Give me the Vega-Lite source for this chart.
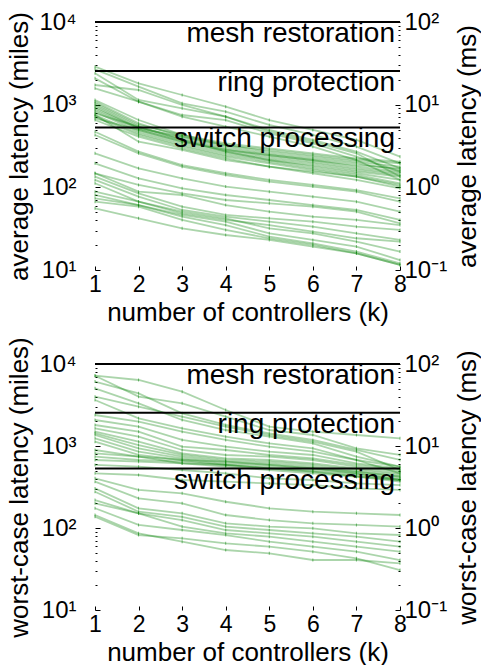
{
"$schema": "https://vega.github.io/schema/vega-lite/v6.json",
"padding": {"left": 6, "top": 10, "right": 0, "bottom": 0},
"config": {"view": {"stroke": null}, "font": "Liberation Sans",
  "axis": {"labelFont": "Liberation Sans", "titleFont": "Liberation Sans", "labelColor": "black", "titleColor": "black", "tickColor": "black", "domain": false, "grid": false, "titleFontWeight": "normal", "labelFontSize": 24, "titleFontSize": 26}},
"datasets": {
"refs": [{"name": "mesh restoration", "miles": 10000}, {"name": "ring protection", "miles": 2550}, {"name": "switch processing", "miles": 530}],
"msr": [{"ms": 0.1}, {"ms": 100}],
"lat": [
{"p":"a","s":"H1","k":1,"v":2882},{"p":"a","s":"H1","k":2,"v":1812},{"p":"a","s":"H1","k":3,"v":1309},{"p":"a","s":"H1","k":4,"v":946},{"p":"a","s":"H1","k":5,"v":652},{"p":"a","s":"H1","k":6,"v":494},{"p":"a","s":"H1","k":7,"v":374},{"p":"a","s":"H1","k":8,"v":235},
{"p":"a","s":"H2","k":1,"v":2676},{"p":"a","s":"H2","k":2,"v":1651},{"p":"a","s":"H2","k":3,"v":1038},{"p":"a","s":"H2","k":4,"v":823},{"p":"a","s":"H2","k":5,"v":568},{"p":"a","s":"H2","k":6,"v":430},{"p":"a","s":"H2","k":7,"v":310},{"p":"a","s":"H2","k":8,"v":195},
{"p":"a","s":"H3","k":1,"v":2393},{"p":"a","s":"H3","k":2,"v":1139},{"p":"a","s":"H3","k":3,"v":903},{"p":"a","s":"H3","k":4,"v":716},{"p":"a","s":"H3","k":5,"v":494},{"p":"a","s":"H3","k":6,"v":374},{"p":"a","s":"H3","k":7,"v":270},{"p":"a","s":"H3","k":8,"v":170},
{"p":"a","s":"H4","k":1,"v":2082},{"p":"a","s":"H4","k":2,"v":1087},{"p":"a","s":"H4","k":3,"v":750},{"p":"a","s":"H4","k":4,"v":652},{"p":"a","s":"H4","k":5,"v":450},{"p":"a","s":"H4","k":6,"v":341},{"p":"a","s":"H4","k":7,"v":235},{"p":"a","s":"H4","k":8,"v":155},
{"p":"a","s":"H5","k":1,"v":1729},{"p":"a","s":"H5","k":2,"v":1505},{"p":"a","s":"H5","k":3,"v":991},{"p":"a","s":"H5","k":4,"v":716},{"p":"a","s":"H5","k":5,"v":471},{"p":"a","s":"H5","k":6,"v":357},{"p":"a","s":"H5","k":7,"v":258},{"p":"a","s":"H5","k":8,"v":135},
{"p":"a","s":"H6","k":1,"v":1576},{"p":"a","s":"H6","k":2,"v":1087},{"p":"a","s":"H6","k":3,"v":716},{"p":"a","s":"H6","k":4,"v":542},{"p":"a","s":"H6","k":5,"v":410},{"p":"a","s":"H6","k":6,"v":310},{"p":"a","s":"H6","k":7,"v":214},{"p":"a","s":"H6","k":8,"v":123},
{"p":"a","s":"M1","k":1,"v":1139},{"p":"a","s":"M1","k":2,"v":652},{"p":"a","s":"M1","k":3,"v":430},{"p":"a","s":"M1","k":4,"v":325},{"p":"a","s":"M1","k":5,"v":270},{"p":"a","s":"M1","k":6,"v":235},{"p":"a","s":"M1","k":7,"v":204},{"p":"a","s":"M1","k":8,"v":178},
{"p":"a","s":"M2","k":1,"v":1087},{"p":"a","s":"M2","k":2,"v":595},{"p":"a","s":"M2","k":3,"v":410},{"p":"a","s":"M2","k":4,"v":310},{"p":"a","s":"M2","k":5,"v":258},{"p":"a","s":"M2","k":6,"v":224},{"p":"a","s":"M2","k":7,"v":195},{"p":"a","s":"M2","k":8,"v":162},
{"p":"a","s":"M3","k":1,"v":991},{"p":"a","s":"M3","k":2,"v":542},{"p":"a","s":"M3","k":3,"v":391},{"p":"a","s":"M3","k":4,"v":296},{"p":"a","s":"M3","k":5,"v":246},{"p":"a","s":"M3","k":6,"v":214},{"p":"a","s":"M3","k":7,"v":178},{"p":"a","s":"M3","k":8,"v":155},
{"p":"a","s":"M4","k":1,"v":903},{"p":"a","s":"M4","k":2,"v":517},{"p":"a","s":"M4","k":3,"v":374},{"p":"a","s":"M4","k":4,"v":283},{"p":"a","s":"M4","k":5,"v":235},{"p":"a","s":"M4","k":6,"v":204},{"p":"a","s":"M4","k":7,"v":170},{"p":"a","s":"M4","k":8,"v":148},
{"p":"a","s":"M5","k":1,"v":862},{"p":"a","s":"M5","k":2,"v":494},{"p":"a","s":"M5","k":3,"v":357},{"p":"a","s":"M5","k":4,"v":270},{"p":"a","s":"M5","k":5,"v":224},{"p":"a","s":"M5","k":6,"v":195},{"p":"a","s":"M5","k":7,"v":162},{"p":"a","s":"M5","k":8,"v":141},
{"p":"a","s":"M6","k":1,"v":823},{"p":"a","s":"M6","k":2,"v":471},{"p":"a","s":"M6","k":3,"v":341},{"p":"a","s":"M6","k":4,"v":258},{"p":"a","s":"M6","k":5,"v":214},{"p":"a","s":"M6","k":6,"v":186},{"p":"a","s":"M6","k":7,"v":155},{"p":"a","s":"M6","k":8,"v":135},
{"p":"a","s":"M7","k":1,"v":786},{"p":"a","s":"M7","k":2,"v":542},{"p":"a","s":"M7","k":3,"v":374},{"p":"a","s":"M7","k":4,"v":270},{"p":"a","s":"M7","k":5,"v":214},{"p":"a","s":"M7","k":6,"v":178},{"p":"a","s":"M7","k":7,"v":148},{"p":"a","s":"M7","k":8,"v":123},
{"p":"a","s":"M8","k":1,"v":750},{"p":"a","s":"M8","k":2,"v":450},{"p":"a","s":"M8","k":3,"v":325},{"p":"a","s":"M8","k":4,"v":246},{"p":"a","s":"M8","k":5,"v":204},{"p":"a","s":"M8","k":6,"v":170},{"p":"a","s":"M8","k":7,"v":141},{"p":"a","s":"M8","k":8,"v":112},
{"p":"a","s":"M9","k":1,"v":716},{"p":"a","s":"M9","k":2,"v":430},{"p":"a","s":"M9","k":3,"v":310},{"p":"a","s":"M9","k":4,"v":235},{"p":"a","s":"M9","k":5,"v":195},{"p":"a","s":"M9","k":6,"v":162},{"p":"a","s":"M9","k":7,"v":135},{"p":"a","s":"M9","k":8,"v":102},
{"p":"a","s":"M10","k":1,"v":683},{"p":"a","s":"M10","k":2,"v":494},{"p":"a","s":"M10","k":3,"v":357},{"p":"a","s":"M10","k":4,"v":283},{"p":"a","s":"M10","k":5,"v":246},{"p":"a","s":"M10","k":6,"v":214},{"p":"a","s":"M10","k":7,"v":186},{"p":"a","s":"M10","k":8,"v":170},
{"p":"a","s":"M11","k":1,"v":652},{"p":"a","s":"M11","k":2,"v":410},{"p":"a","s":"M11","k":3,"v":296},{"p":"a","s":"M11","k":4,"v":224},{"p":"a","s":"M11","k":5,"v":178},{"p":"a","s":"M11","k":6,"v":148},{"p":"a","s":"M11","k":7,"v":123},{"p":"a","s":"M11","k":8,"v":97.3},
{"p":"a","s":"M12","k":1,"v":946},{"p":"a","s":"M12","k":2,"v":517},{"p":"a","s":"M12","k":3,"v":410},{"p":"a","s":"M12","k":4,"v":325},{"p":"a","s":"M12","k":5,"v":283},{"p":"a","s":"M12","k":6,"v":246},{"p":"a","s":"M12","k":7,"v":214},{"p":"a","s":"M12","k":8,"v":195},
{"p":"a","s":"M13","k":1,"v":750},{"p":"a","s":"M13","k":2,"v":357},{"p":"a","s":"M13","k":3,"v":283},{"p":"a","s":"M13","k":4,"v":214},{"p":"a","s":"M13","k":5,"v":178},{"p":"a","s":"M13","k":6,"v":155},{"p":"a","s":"M13","k":7,"v":135},{"p":"a","s":"M13","k":8,"v":107},
{"p":"a","s":"M14","k":1,"v":1038},{"p":"a","s":"M14","k":2,"v":568},{"p":"a","s":"M14","k":3,"v":430},{"p":"a","s":"M14","k":4,"v":341},{"p":"a","s":"M14","k":5,"v":296},{"p":"a","s":"M14","k":6,"v":258},{"p":"a","s":"M14","k":7,"v":224},{"p":"a","s":"M14","k":8,"v":204},
{"p":"a","s":"D1","k":1,"v":471},{"p":"a","s":"D1","k":2,"v":270},{"p":"a","s":"D1","k":3,"v":186},{"p":"a","s":"D1","k":4,"v":148},{"p":"a","s":"D1","k":5,"v":123},{"p":"a","s":"D1","k":6,"v":107},{"p":"a","s":"D1","k":7,"v":92.8},{"p":"a","s":"D1","k":8,"v":73.6},
{"p":"a","s":"D2","k":1,"v":430},{"p":"a","s":"D2","k":2,"v":258},{"p":"a","s":"D2","k":3,"v":178},{"p":"a","s":"D2","k":4,"v":141},{"p":"a","s":"D2","k":5,"v":117},{"p":"a","s":"D2","k":6,"v":102},{"p":"a","s":"D2","k":7,"v":88.6},{"p":"a","s":"D2","k":8,"v":67.1},
{"p":"a","s":"D3","k":1,"v":258},{"p":"a","s":"D3","k":2,"v":170},{"p":"a","s":"D3","k":3,"v":128},{"p":"a","s":"D3","k":4,"v":102},{"p":"a","s":"D3","k":5,"v":88.6},{"p":"a","s":"D3","k":6,"v":77.1},{"p":"a","s":"D3","k":7,"v":67.1},{"p":"a","s":"D3","k":8,"v":50.8},
{"p":"a","s":"D4","k":1,"v":195},{"p":"a","s":"D4","k":2,"v":128},{"p":"a","s":"D4","k":3,"v":97.3},{"p":"a","s":"D4","k":4,"v":80.8},{"p":"a","s":"D4","k":5,"v":70.3},{"p":"a","s":"D4","k":6,"v":61.1},{"p":"a","s":"D4","k":7,"v":53.2},{"p":"a","s":"D4","k":8,"v":40.3},
{"p":"a","s":"D5","k":1,"v":148},{"p":"a","s":"D5","k":2,"v":107},{"p":"a","s":"D5","k":3,"v":84.6},{"p":"a","s":"D5","k":4,"v":70.3},{"p":"a","s":"D5","k":5,"v":64.0},{"p":"a","s":"D5","k":6,"v":58.4},{"p":"a","s":"D5","k":7,"v":50.8},{"p":"a","s":"D5","k":8,"v":36.7},
{"p":"a","s":"W1","k":1,"v":148},{"p":"a","s":"W1","k":2,"v":88.6},{"p":"a","s":"W1","k":3,"v":80.8},{"p":"a","s":"W1","k":4,"v":61.1},{"p":"a","s":"W1","k":5,"v":50.8},{"p":"a","s":"W1","k":6,"v":44.2},{"p":"a","s":"W1","k":7,"v":40.3},{"p":"a","s":"W1","k":8,"v":35.0},
{"p":"a","s":"W2","k":1,"v":135},{"p":"a","s":"W2","k":2,"v":84.6},{"p":"a","s":"W2","k":3,"v":58.4},{"p":"a","s":"W2","k":4,"v":46.3},{"p":"a","s":"W2","k":5,"v":42.2},{"p":"a","s":"W2","k":6,"v":38.4},{"p":"a","s":"W2","k":7,"v":33.4},{"p":"a","s":"W2","k":8,"v":30.5},
{"p":"a","s":"W3","k":1,"v":123},{"p":"a","s":"W3","k":2,"v":77.1},{"p":"a","s":"W3","k":3,"v":53.2},{"p":"a","s":"W3","k":4,"v":44.2},{"p":"a","s":"W3","k":5,"v":38.4},{"p":"a","s":"W3","k":6,"v":33.4},{"p":"a","s":"W3","k":7,"v":27.8},{"p":"a","s":"W3","k":8,"v":23.1},
{"p":"a","s":"W4","k":1,"v":112},{"p":"a","s":"W4","k":2,"v":67.1},{"p":"a","s":"W4","k":3,"v":48.5},{"p":"a","s":"W4","k":4,"v":40.3},{"p":"a","s":"W4","k":5,"v":35.0},{"p":"a","s":"W4","k":6,"v":29.1},{"p":"a","s":"W4","k":7,"v":24.2},{"p":"a","s":"W4","k":8,"v":22.0},
{"p":"a","s":"W5","k":1,"v":88.6},{"p":"a","s":"W5","k":2,"v":67.1},{"p":"a","s":"W5","k":3,"v":50.8},{"p":"a","s":"W5","k":4,"v":42.2},{"p":"a","s":"W5","k":5,"v":31.9},{"p":"a","s":"W5","k":6,"v":27.8},{"p":"a","s":"W5","k":7,"v":22.0},{"p":"a","s":"W5","k":8,"v":16.7},
{"p":"a","s":"W6","k":1,"v":80.8},{"p":"a","s":"W6","k":2,"v":61.1},{"p":"a","s":"W6","k":3,"v":46.3},{"p":"a","s":"W6","k":4,"v":38.4},{"p":"a","s":"W6","k":5,"v":27.8},{"p":"a","s":"W6","k":6,"v":23.1},{"p":"a","s":"W6","k":7,"v":19.2},{"p":"a","s":"W6","k":8,"v":13.2},
{"p":"a","s":"W7","k":1,"v":73.6},{"p":"a","s":"W7","k":2,"v":61.1},{"p":"a","s":"W7","k":3,"v":44.2},{"p":"a","s":"W7","k":4,"v":35.0},{"p":"a","s":"W7","k":5,"v":25.3},{"p":"a","s":"W7","k":6,"v":21.0},{"p":"a","s":"W7","k":7,"v":16.7},{"p":"a","s":"W7","k":8,"v":12.0},
{"p":"a","s":"W8","k":1,"v":67.1},{"p":"a","s":"W8","k":2,"v":58.4},{"p":"a","s":"W8","k":3,"v":40.3},{"p":"a","s":"W8","k":4,"v":30.5},{"p":"a","s":"W8","k":5,"v":24.2},{"p":"a","s":"W8","k":6,"v":20.1},{"p":"a","s":"W8","k":7,"v":15.9},{"p":"a","s":"W8","k":8,"v":11.5},
{"p":"a","s":"W9","k":1,"v":55.7},{"p":"a","s":"W9","k":2,"v":42.2},{"p":"a","s":"W9","k":3,"v":31.9},{"p":"a","s":"W9","k":4,"v":26.5},{"p":"a","s":"W9","k":5,"v":23.1},{"p":"a","s":"W9","k":6,"v":19.2},{"p":"a","s":"W9","k":7,"v":15.9},{"p":"a","s":"W9","k":8,"v":11.5},
{"p":"w","s":"T1","k":1,"v":7200},{"p":"w","s":"T1","k":2,"v":6381},{"p":"w","s":"T1","k":3,"v":4598},{"p":"w","s":"T1","k":4,"v":2748},{"p":"w","s":"T1","k":5,"v":1721},{"p":"w","s":"T1","k":6,"v":1495},{"p":"w","s":"T1","k":7,"v":1362},{"p":"w","s":"T1","k":8,"v":1240},
{"p":"w","s":"T2","k":1,"v":7200},{"p":"w","s":"T2","k":2,"v":3996},{"p":"w","s":"T2","k":3,"v":3315},{"p":"w","s":"T2","k":4,"v":2279},{"p":"w","s":"T2","k":5,"v":1567},{"p":"w","s":"T2","k":6,"v":1362},{"p":"w","s":"T2","k":7,"v":937},{"p":"w","s":"T2","k":8,"v":777},
{"p":"w","s":"T3","k":1,"v":6100},{"p":"w","s":"T3","k":2,"v":4388},{"p":"w","s":"T3","k":3,"v":2503},{"p":"w","s":"T3","k":4,"v":1804},{"p":"w","s":"T3","k":5,"v":1427},{"p":"w","s":"T3","k":6,"v":1184},{"p":"w","s":"T3","k":7,"v":894},{"p":"w","s":"T3","k":8,"v":675},
{"p":"w","s":"T4","k":1,"v":5050},{"p":"w","s":"T4","k":2,"v":3315},{"p":"w","s":"T4","k":3,"v":2076},{"p":"w","s":"T4","k":4,"v":1567},{"p":"w","s":"T4","k":5,"v":1300},{"p":"w","s":"T4","k":6,"v":1078},{"p":"w","s":"T4","k":7,"v":741},{"p":"w","s":"T4","k":8,"v":560},
{"p":"w","s":"T5","k":1,"v":3996},{"p":"w","s":"T5","k":2,"v":3018},{"p":"w","s":"T5","k":3,"v":2279},{"p":"w","s":"T5","k":4,"v":1721},{"p":"w","s":"T5","k":5,"v":1362},{"p":"w","s":"T5","k":6,"v":1129},{"p":"w","s":"T5","k":7,"v":853},{"p":"w","s":"T5","k":8,"v":510},
{"p":"w","s":"T6","k":1,"v":3639},{"p":"w","s":"T6","k":2,"v":2175},{"p":"w","s":"T6","k":3,"v":1642},{"p":"w","s":"T6","k":4,"v":1300},{"p":"w","s":"T6","k":5,"v":1078},{"p":"w","s":"T6","k":6,"v":937},{"p":"w","s":"T6","k":7,"v":675},{"p":"w","s":"T6","k":8,"v":464},
{"p":"w","s":"N1","k":1,"v":2388},{"p":"w","s":"N1","k":2,"v":1981},{"p":"w","s":"N1","k":3,"v":1495},{"p":"w","s":"N1","k":4,"v":1184},{"p":"w","s":"N1","k":5,"v":981},{"p":"w","s":"N1","k":6,"v":853},{"p":"w","s":"N1","k":7,"v":675},{"p":"w","s":"N1","k":8,"v":560},
{"p":"w","s":"N2","k":1,"v":2076},{"p":"w","s":"N2","k":2,"v":1721},{"p":"w","s":"N2","k":3,"v":1184},{"p":"w","s":"N2","k":4,"v":981},{"p":"w","s":"N2","k":5,"v":853},{"p":"w","s":"N2","k":6,"v":777},{"p":"w","s":"N2","k":7,"v":615},{"p":"w","s":"N2","k":8,"v":534},
{"p":"w","s":"N3","k":1,"v":1804},{"p":"w","s":"N3","k":2,"v":1495},{"p":"w","s":"N3","k":3,"v":981},{"p":"w","s":"N3","k":4,"v":894},{"p":"w","s":"N3","k":5,"v":777},{"p":"w","s":"N3","k":6,"v":707},{"p":"w","s":"N3","k":7,"v":587},{"p":"w","s":"N3","k":8,"v":510},
{"p":"w","s":"N4","k":1,"v":1642},{"p":"w","s":"N4","k":2,"v":1300},{"p":"w","s":"N4","k":3,"v":894},{"p":"w","s":"N4","k":4,"v":777},{"p":"w","s":"N4","k":5,"v":741},{"p":"w","s":"N4","k":6,"v":675},{"p":"w","s":"N4","k":7,"v":560},{"p":"w","s":"N4","k":8,"v":486},
{"p":"w","s":"N5","k":1,"v":1495},{"p":"w","s":"N5","k":2,"v":1129},{"p":"w","s":"N5","k":3,"v":814},{"p":"w","s":"N5","k":4,"v":707},{"p":"w","s":"N5","k":5,"v":675},{"p":"w","s":"N5","k":6,"v":615},{"p":"w","s":"N5","k":7,"v":534},{"p":"w","s":"N5","k":8,"v":464},
{"p":"w","s":"N6","k":1,"v":1427},{"p":"w","s":"N6","k":2,"v":1028},{"p":"w","s":"N6","k":3,"v":777},{"p":"w","s":"N6","k":4,"v":675},{"p":"w","s":"N6","k":5,"v":644},{"p":"w","s":"N6","k":6,"v":587},{"p":"w","s":"N6","k":7,"v":510},{"p":"w","s":"N6","k":8,"v":443},
{"p":"w","s":"N7","k":1,"v":1362},{"p":"w","s":"N7","k":2,"v":937},{"p":"w","s":"N7","k":3,"v":741},{"p":"w","s":"N7","k":4,"v":644},{"p":"w","s":"N7","k":5,"v":615},{"p":"w","s":"N7","k":6,"v":560},{"p":"w","s":"N7","k":7,"v":486},{"p":"w","s":"N7","k":8,"v":423},
{"p":"w","s":"N8","k":1,"v":1240},{"p":"w","s":"N8","k":2,"v":853},{"p":"w","s":"N8","k":3,"v":707},{"p":"w","s":"N8","k":4,"v":615},{"p":"w","s":"N8","k":5,"v":587},{"p":"w","s":"N8","k":6,"v":534},{"p":"w","s":"N8","k":7,"v":464},{"p":"w","s":"N8","k":8,"v":403},
{"p":"w","s":"N9","k":1,"v":1129},{"p":"w","s":"N9","k":2,"v":777},{"p":"w","s":"N9","k":3,"v":675},{"p":"w","s":"N9","k":4,"v":587},{"p":"w","s":"N9","k":5,"v":560},{"p":"w","s":"N9","k":6,"v":510},{"p":"w","s":"N9","k":7,"v":464},{"p":"w","s":"N9","k":8,"v":385},
{"p":"w","s":"N10","k":1,"v":894},{"p":"w","s":"N10","k":2,"v":741},{"p":"w","s":"N10","k":3,"v":615},{"p":"w","s":"N10","k":4,"v":587},{"p":"w","s":"N10","k":5,"v":534},{"p":"w","s":"N10","k":6,"v":486},{"p":"w","s":"N10","k":7,"v":443},{"p":"w","s":"N10","k":8,"v":385},
{"p":"w","s":"N11","k":1,"v":814},{"p":"w","s":"N11","k":2,"v":741},{"p":"w","s":"N11","k":3,"v":675},{"p":"w","s":"N11","k":4,"v":644},{"p":"w","s":"N11","k":5,"v":587},{"p":"w","s":"N11","k":6,"v":534},{"p":"w","s":"N11","k":7,"v":486},{"p":"w","s":"N11","k":8,"v":423},
{"p":"w","s":"N12","k":1,"v":741},{"p":"w","s":"N12","k":2,"v":675},{"p":"w","s":"N12","k":3,"v":644},{"p":"w","s":"N12","k":4,"v":587},{"p":"w","s":"N12","k":5,"v":534},{"p":"w","s":"N12","k":6,"v":486},{"p":"w","s":"N12","k":7,"v":423},{"p":"w","s":"N12","k":8,"v":367},
{"p":"w","s":"N13","k":1,"v":675},{"p":"w","s":"N13","k":2,"v":644},{"p":"w","s":"N13","k":3,"v":615},{"p":"w","s":"N13","k":4,"v":560},{"p":"w","s":"N13","k":5,"v":510},{"p":"w","s":"N13","k":6,"v":464},{"p":"w","s":"N13","k":7,"v":423},{"p":"w","s":"N13","k":8,"v":385},
{"p":"w","s":"N14","k":1,"v":587},{"p":"w","s":"N14","k":2,"v":560},{"p":"w","s":"N14","k":3,"v":510},{"p":"w","s":"N14","k":4,"v":464},{"p":"w","s":"N14","k":5,"v":403},{"p":"w","s":"N14","k":6,"v":385},{"p":"w","s":"N14","k":7,"v":350},{"p":"w","s":"N14","k":8,"v":334},
{"p":"w","s":"P1","k":1,"v":464},{"p":"w","s":"P1","k":2,"v":443},{"p":"w","s":"P1","k":3,"v":385},{"p":"w","s":"P1","k":4,"v":367},{"p":"w","s":"P1","k":5,"v":350},{"p":"w","s":"P1","k":6,"v":334},{"p":"w","s":"P1","k":7,"v":304},{"p":"w","s":"P1","k":8,"v":291},
{"p":"w","s":"P2","k":1,"v":403},{"p":"w","s":"P2","k":2,"v":291},{"p":"w","s":"P2","k":3,"v":265},{"p":"w","s":"P2","k":4,"v":209},{"p":"w","s":"P2","k":5,"v":174},{"p":"w","s":"P2","k":6,"v":158},{"p":"w","s":"P2","k":7,"v":151},{"p":"w","s":"P2","k":8,"v":144},
{"p":"w","s":"P3","k":1,"v":367},{"p":"w","s":"P3","k":2,"v":230},{"p":"w","s":"P3","k":3,"v":200},{"p":"w","s":"P3","k":4,"v":144},{"p":"w","s":"P3","k":5,"v":125},{"p":"w","s":"P3","k":6,"v":114},{"p":"w","s":"P3","k":7,"v":109},{"p":"w","s":"P3","k":8,"v":104},
{"p":"w","s":"P4","k":1,"v":304},{"p":"w","s":"P4","k":2,"v":174},{"p":"w","s":"P4","k":3,"v":151},{"p":"w","s":"P4","k":4,"v":114},{"p":"w","s":"P4","k":5,"v":104},{"p":"w","s":"P4","k":6,"v":99.1},{"p":"w","s":"P4","k":7,"v":86.1},{"p":"w","s":"P4","k":8,"v":82.1},
{"p":"w","s":"P5","k":1,"v":277},{"p":"w","s":"P5","k":2,"v":158},{"p":"w","s":"P5","k":3,"v":137},{"p":"w","s":"P5","k":4,"v":104},{"p":"w","s":"P5","k":5,"v":94.5},{"p":"w","s":"P5","k":6,"v":86.1},{"p":"w","s":"P5","k":7,"v":78.4},{"p":"w","s":"P5","k":8,"v":68.1},
{"p":"w","s":"P6","k":1,"v":219},{"p":"w","s":"P6","k":2,"v":151},{"p":"w","s":"P6","k":3,"v":125},{"p":"w","s":"P6","k":4,"v":94.5},{"p":"w","s":"P6","k":5,"v":86.1},{"p":"w","s":"P6","k":6,"v":78.4},{"p":"w","s":"P6","k":7,"v":68.1},{"p":"w","s":"P6","k":8,"v":59.2},
{"p":"w","s":"P7","k":1,"v":200},{"p":"w","s":"P7","k":2,"v":151},{"p":"w","s":"P7","k":3,"v":104},{"p":"w","s":"P7","k":4,"v":86.1},{"p":"w","s":"P7","k":5,"v":78.4},{"p":"w","s":"P7","k":6,"v":68.1},{"p":"w","s":"P7","k":7,"v":59.2},{"p":"w","s":"P7","k":8,"v":51.4},
{"p":"w","s":"P8","k":1,"v":174},{"p":"w","s":"P8","k":2,"v":109},{"p":"w","s":"P8","k":3,"v":94.5},{"p":"w","s":"P8","k":4,"v":82.1},{"p":"w","s":"P8","k":5,"v":68.1},{"p":"w","s":"P8","k":6,"v":59.2},{"p":"w","s":"P8","k":7,"v":51.4},{"p":"w","s":"P8","k":8,"v":40.7},
{"p":"w","s":"P9","k":1,"v":144},{"p":"w","s":"P9","k":2,"v":86.1},{"p":"w","s":"P9","k":3,"v":68.1},{"p":"w","s":"P9","k":4,"v":53.9},{"p":"w","s":"P9","k":5,"v":49.1},{"p":"w","s":"P9","k":6,"v":40.7},{"p":"w","s":"P9","k":7,"v":40.7},{"p":"w","s":"P9","k":8,"v":37.1},
{"p":"w","s":"P10","k":1,"v":137},{"p":"w","s":"P10","k":2,"v":82.1},{"p":"w","s":"P10","k":3,"v":74.8},{"p":"w","s":"P10","k":4,"v":65.0},{"p":"w","s":"P10","k":5,"v":59.2},{"p":"w","s":"P10","k":6,"v":51.4},{"p":"w","s":"P10","k":7,"v":42.7},{"p":"w","s":"P10","k":8,"v":30.7}
]},
"spacing": 94,
"bounds": "flush",
"vconcat": [
{
 "width": 305, "height": 248,
 "layer": [
  {"layer": [
   {"data": {"name": "lat"}, "transform": [{"filter": "datum.p == 'a'"}],
    "mark": {"type": "line", "color": "#008000", "opacity": 0.33, "strokeWidth": 1.8},
    "encoding": {
     "x": {"field": "k", "type": "quantitative", "scale": {"domain": [1, 8], "nice": false, "zero": false},
       "axis": {"title": "number of controllers (k)", "values": [1,2,3,4,5,6,7,8], "format": "d", "tickSize": -4, "labelFontSize": 23, "labelPadding": 7, "labelFlush": false, "titlePadding": 3}},
     "y": {"field": "v", "type": "quantitative", "scale": {"type": "log", "domain": [10, 10000], "nice": false},
       "axis": {"title": "average latency (miles)", "values": [10,20,30,40,50,60,70,80,90,100,200,300,400,500,600,700,800,900,1000,2000,3000,4000,5000,6000,7000,8000,9000,10000],
         "tickSize": {"condition": {"test": "datum.value == 10 || datum.value == 100 || datum.value == 1000 || datum.value == 10000", "value": -5}, "value": -2},
         "labelExpr": "datum.value == 10 ? '10¹' : datum.value == 100 ? '10²' : datum.value == 1000 ? '10³' : datum.value == 10000 ? '10⁴' : ''",
         "labelOverlap": false, "labelPadding": 24, "titlePadding": 6}},
     "detail": {"field": "s"}
    }},
   {"data": {"name": "lat"}, "transform": [{"filter": "datum.p == 'a'"}],
    "mark": {"type": "tick", "orient": "vertical", "size": 3, "thickness": 1, "color": "#008000", "opacity": 0.5},
    "encoding": {
     "x": {"field": "k", "type": "quantitative", "scale": {"domain": [1, 8], "nice": false, "zero": false}},
     "y": {"field": "v", "type": "quantitative", "scale": {"type": "log", "domain": [10, 10000], "nice": false}}
    }},
   {"data": {"name": "refs"},
    "mark": {"type": "rule", "color": "black", "strokeWidth": 2},
    "encoding": {"y": {"field": "miles", "type": "quantitative", "scale": {"type": "log", "domain": [10, 10000], "nice": false}}}},
   {"data": {"name": "refs"},
    "mark": {"type": "text", "align": "right", "baseline": "alphabetic", "dx": -5, "dy": 20, "fontSize": 28, "font": "Liberation Sans", "color": "black"},
    "encoding": {"x": {"value": "width"}, "y": {"field": "miles", "type": "quantitative", "scale": {"type": "log", "domain": [10, 10000], "nice": false}}, "text": {"field": "name"}}}
  ]},
  {"data": {"name": "msr"},
   "mark": {"type": "point", "opacity": 0},
   "encoding": {"y": {"field": "ms", "type": "quantitative", "scale": {"type": "log", "domain": [0.1, 100], "nice": false},
     "axis": {"orient": "right", "title": "average latency (ms)", "titleAngle": 270, "titleBaseline": "top", "values": [0.1,0.2,0.3,0.4,0.5,0.6,0.7,0.8,0.9,1,2,3,4,5,6,7,8,9,10,20,30,40,50,60,70,80,90,100],
       "tickSize": {"condition": {"test": "datum.value == 0.1 || datum.value == 1 || datum.value == 10 || datum.value == 100", "value": -5}, "value": -2},
       "labelExpr": "datum.value == 0.1 ? '10⁻¹' : datum.value == 1 ? '10⁰' : datum.value == 10 ? '10¹' : datum.value == 100 ? '10²' : ''",
       "labelOverlap": false, "labelPadding": 9, "titlePadding": 8}}}}
 ],
 "resolve": {"scale": {"y": "independent"}}
},
{
 "width": 305, "height": 246,
 "layer": [
  {"layer": [
   {"data": {"name": "lat"}, "transform": [{"filter": "datum.p == 'w'"}],
    "mark": {"type": "line", "color": "#008000", "opacity": 0.33, "strokeWidth": 1.8},
    "encoding": {
     "x": {"field": "k", "type": "quantitative", "scale": {"domain": [1, 8], "nice": false, "zero": false},
       "axis": {"title": "number of controllers (k)", "values": [1,2,3,4,5,6,7,8], "format": "d", "tickSize": -4, "labelFontSize": 23, "labelPadding": 7, "labelFlush": false, "titlePadding": 3}},
     "y": {"field": "v", "type": "quantitative", "scale": {"type": "log", "domain": [10, 10000], "nice": false},
       "axis": {"title": "worst-case latency (miles)", "values": [10,20,30,40,50,60,70,80,90,100,200,300,400,500,600,700,800,900,1000,2000,3000,4000,5000,6000,7000,8000,9000,10000],
         "tickSize": {"condition": {"test": "datum.value == 10 || datum.value == 100 || datum.value == 1000 || datum.value == 10000", "value": -5}, "value": -2},
         "labelExpr": "datum.value == 10 ? '10¹' : datum.value == 100 ? '10²' : datum.value == 1000 ? '10³' : datum.value == 10000 ? '10⁴' : ''",
         "labelOverlap": false, "labelPadding": 24, "titlePadding": 6}},
     "detail": {"field": "s"}
    }},
   {"data": {"name": "lat"}, "transform": [{"filter": "datum.p == 'w'"}],
    "mark": {"type": "tick", "orient": "vertical", "size": 3, "thickness": 1, "color": "#008000", "opacity": 0.5},
    "encoding": {
     "x": {"field": "k", "type": "quantitative", "scale": {"domain": [1, 8], "nice": false, "zero": false}},
     "y": {"field": "v", "type": "quantitative", "scale": {"type": "log", "domain": [10, 10000], "nice": false}}
    }},
   {"data": {"name": "refs"},
    "mark": {"type": "rule", "color": "black", "strokeWidth": 2},
    "encoding": {"y": {"field": "miles", "type": "quantitative", "scale": {"type": "log", "domain": [10, 10000], "nice": false}}}},
   {"data": {"name": "refs"},
    "mark": {"type": "text", "align": "right", "baseline": "alphabetic", "dx": -5, "dy": 20, "fontSize": 28, "font": "Liberation Sans", "color": "black"},
    "encoding": {"x": {"value": "width"}, "y": {"field": "miles", "type": "quantitative", "scale": {"type": "log", "domain": [10, 10000], "nice": false}}, "text": {"field": "name"}}}
  ]},
  {"data": {"name": "msr"},
   "mark": {"type": "point", "opacity": 0},
   "encoding": {"y": {"field": "ms", "type": "quantitative", "scale": {"type": "log", "domain": [0.1, 100], "nice": false},
     "axis": {"orient": "right", "title": "worst-case latency (ms)", "titleAngle": 270, "titleBaseline": "top", "values": [0.1,0.2,0.3,0.4,0.5,0.6,0.7,0.8,0.9,1,2,3,4,5,6,7,8,9,10,20,30,40,50,60,70,80,90,100],
       "tickSize": {"condition": {"test": "datum.value == 0.1 || datum.value == 1 || datum.value == 10 || datum.value == 100", "value": -5}, "value": -2},
       "labelExpr": "datum.value == 0.1 ? '10⁻¹' : datum.value == 1 ? '10⁰' : datum.value == 10 ? '10¹' : datum.value == 100 ? '10²' : ''",
       "labelOverlap": false, "labelPadding": 9, "titlePadding": 8}}}}
 ],
 "resolve": {"scale": {"y": "independent"}}
}
]
}
